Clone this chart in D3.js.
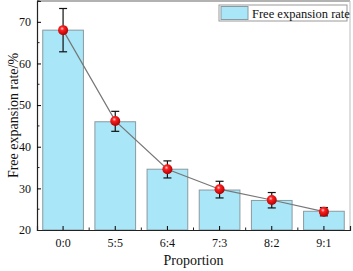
<!DOCTYPE html>
<html>
<head>
<meta charset="utf-8">
<script src="https://cdn.jsdelivr.net/npm/d3@7"></script>
<style>
  body { margin: 0; background: #fff; }
  svg { display: block; font-family: "Liberation Serif", "Times New Roman", serif; }
</style>
</head>
<body>
<svg id="chart"></svg>
<script>
// data
const categories = ["0:0", "5:5", "6:4", "7:3", "8:2", "9:1"];
const barValues = [68, 46, 34.6, 29.6, 27.1, 24.5];
const pointValues = [68, 46.2, 34.6, 29.8, 27.2, 24.4];
const errLow = [62.8, 43.7, 32.5, 27.7, 25.3, 23.4];
const errHigh = [73.2, 48.5, 36.6, 31.7, 29, 25.4];
const yTicks = [20, 30, 40, 50, 60, 70];
const legendLabel = "Free expansion rate";

const W = 353, H = 271;
const margin = {top: 1, right: 3, bottom: 41, left: 37};
const width = W - margin.left - margin.right;
const height = H - margin.top - margin.bottom;

const svg = d3.select("#chart").attr("width", W).attr("height", H);

const defs = svg.append("defs");
const grad = defs.append("radialGradient")
    .attr("id", "ball").attr("cx", "40%").attr("cy", "35%").attr("r", "65%");
grad.append("stop").attr("offset", "0%").attr("stop-color", "#ffd0d0");
grad.append("stop").attr("offset", "30%").attr("stop-color", "#ff2020");
grad.append("stop").attr("offset", "100%").attr("stop-color", "#b00000");

const g = svg.append("g")
    .attr("transform", "translate(" + margin.left + "," + margin.top + ")");

const x = d3.scaleBand().domain(categories).range([0, width]).paddingInner(0.22).paddingOuter(0.11);
const y = d3.scaleLinear().domain([20, 75]).range([height, 0]);
const cx = d => x(d) + x.bandwidth() / 2;

// frame (top / right)
g.append("line").attr("x1", 0).attr("x2", width).attr("y1", 0).attr("y2", 0)
    .attr("stroke", "#666").attr("stroke-width", 1.2);
g.append("line").attr("x1", width).attr("x2", width).attr("y1", 0).attr("y2", height)
    .attr("stroke", "#c8c8c8").attr("stroke-width", 1.2);

// bars
g.selectAll(".bar").data(categories).enter().append("rect")
    .attr("class", "bar")
    .attr("x", d => x(d))
    .attr("width", x.bandwidth())
    .attr("y", (d, i) => y(barValues[i]))
    .attr("height", (d, i) => height - y(barValues[i]))
    .attr("fill", "#a8e6f8")
    .attr("stroke", "#8a9aa0")
    .attr("stroke-width", 1);

// axes
const yAxis = d3.axisLeft(y).tickValues(yTicks).tickSize(-4).tickPadding(6);
const yAxisG = g.append("g").call(yAxis);
yAxisG.select(".domain").attr("stroke", "#222").attr("stroke-width", 1.2);
yAxisG.selectAll("text").attr("font-size", 12).attr("fill", "#111").attr("font-family", "Liberation Serif");
// minor y ticks
g.append("g").selectAll("line").data([25, 35, 45, 55, 65, 75]).enter().append("line")
    .attr("x1", 0).attr("x2", 2.5).attr("y1", d => y(d)).attr("y2", d => y(d))
    .attr("stroke", "#222");

const xAxis = d3.axisBottom(x).tickSize(-4).tickPadding(8);
const xAxisG = g.append("g").attr("transform", "translate(0," + height + ")").call(xAxis);
xAxisG.select(".domain").attr("stroke", "#222").attr("stroke-width", 1.2);
xAxisG.selectAll("text").attr("font-size", 12).attr("fill", "#111").attr("font-family", "Liberation Serif");
// minor x ticks between bands
g.append("g").selectAll("line").data(categories.slice(1)).enter().append("line")
    .attr("x1", d => x(d) - x.step() * 0.11).attr("x2", d => x(d) - x.step() * 0.11)
    .attr("y1", height).attr("y2", height - 2.5)
    .attr("stroke", "#222");

// connecting line
g.append("path")
    .datum(categories)
    .attr("fill", "none")
    .attr("stroke", "#777")
    .attr("stroke-width", 1.2)
    .attr("d", d3.line().x(d => cx(d)).y((d, i) => y(pointValues[i])));

// error bars
const err = g.selectAll(".err").data(categories).enter().append("g").attr("class", "err")
    .attr("stroke", "#111").attr("stroke-width", 1.2);
err.append("line").attr("x1", d => cx(d)).attr("x2", d => cx(d))
    .attr("y1", (d, i) => y(errLow[i])).attr("y2", (d, i) => y(errHigh[i]));
err.append("line").attr("x1", d => cx(d) - 4).attr("x2", d => cx(d) + 4)
    .attr("y1", (d, i) => y(errLow[i])).attr("y2", (d, i) => y(errLow[i]));
err.append("line").attr("x1", d => cx(d) - 4).attr("x2", d => cx(d) + 4)
    .attr("y1", (d, i) => y(errHigh[i])).attr("y2", (d, i) => y(errHigh[i]));

// points
g.selectAll(".pt").data(categories).enter().append("circle")
    .attr("class", "pt")
    .attr("cx", d => cx(d))
    .attr("cy", (d, i) => y(pointValues[i]))
    .attr("r", 5)
    .attr("fill", "url(#ball)");

// axis titles
svg.append("text")
    .attr("transform", "translate(17.5," + (margin.top + height / 2) + ") rotate(-90)")
    .attr("text-anchor", "middle")
    .attr("font-size", 14)
    .attr("fill", "#111")
    .text("Free expansion rate/%");
svg.append("text")
    .attr("x", margin.left + width / 2)
    .attr("y", 265)
    .attr("text-anchor", "middle")
    .attr("font-size", 14)
    .attr("fill", "#111")
    .text("Proportion");

// legend
const lg = svg.append("g").attr("transform", "translate(219,5)");
lg.append("rect").attr("width", 128).attr("height", 16)
    .attr("fill", "#fff").attr("stroke", "#999").attr("stroke-width", 1);
lg.append("rect").attr("x", 2).attr("y", 1.5).attr("width", 27).attr("height", 13)
    .attr("fill", "#a8e6f8").attr("stroke", "#8a9aa0");
lg.append("text").attr("x", 33).attr("y", 12.5)
    .attr("font-size", 12.5).attr("fill", "#111").text(legendLabel);
</script>
</body>
</html>
